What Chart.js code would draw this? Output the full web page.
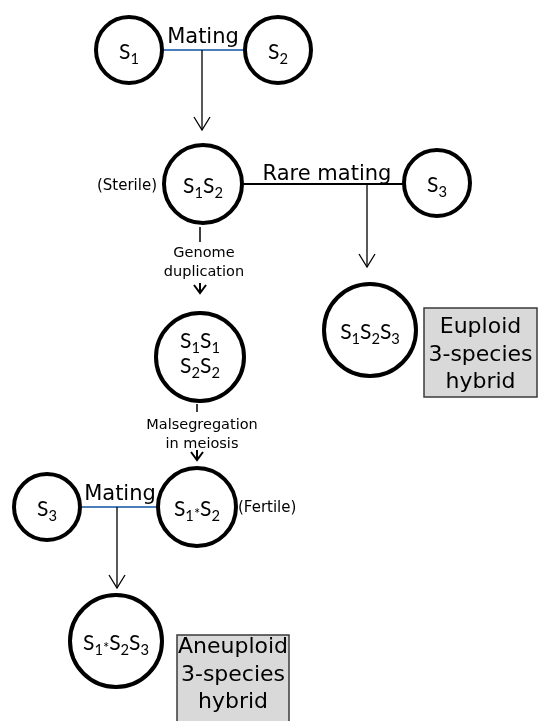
<!DOCTYPE html>
<html>
<head>
<meta charset="utf-8">
<script src="https://cdn.jsdelivr.net/npm/chart.js@4.4.1/dist/chart.umd.min.js"></script>
<style>
html, body { margin: 0; padding: 0; background: #fff; }
canvas { display: block; }
</style>
</head>
<body>
<canvas id="diagram" width="538" height="721"></canvas>
<script>
// species / hybrid nodes (digits and * are drawn as subscripts, | splits lines)
var nodeLabels = ['S1', 'S2', 'S1S2', 'S3', 'S1S1|S2S2', 'S1S2S3', 'S3', 'S1*S2', 'S1*S2S3'];
var nodeX = [129, 278, 203, 437, 200, 370, 47, 197, 116];
var nodeY = [50, 50, 184, 183, 357, 330, 507, 507, 641];
var nodeSize = [33, 33, 39, 33, 44, 46, 33, 39, 46];

// matings between two nodes and the arrow to their offspring
var matingNames = ['Mating', 'Rare mating', 'Mating'];
var matingLeft = [0, 2, 6];
var matingRight = [1, 3, 7];
var matingTextX = [203, 327, 120];
var matingTextY = [43, 180, 500];
var offspringX = [202, 367, 117];
var offspringTipY = [130, 267, 588];

// genome events between stacked nodes
var eventLines = [['Genome', 'duplication'], ['Malsegregation', 'in meiosis']];
var eventX = [200, 197];
var eventTextX = [204, 202];
var eventTextY = [257, 429];
var eventStemTop = [227, 404];
var eventStemBottom = [242, 412];
var eventTipY = [293, 460];

// side notes
var noteTexts = ['(Sterile)', '(Fertile)'];
var noteX = [157, 238];
var noteY = [190, 512];
var noteAlign = ['right', 'left'];

// result boxes
var boxLines = [['Euploid', '3-species', 'hybrid'], ['Aneuploid', '3-species', 'hybrid']];
var boxLeft = [424, 177];
var boxRight = [537, 289];
var boxTop = [308, 635];
var boxBottom = [397, 740];
var boxTextY = [333, 653];

var handFont = '"DejaVu Sans", sans-serif';
var nodeFont = 'Lato, "Open Sans", sans-serif';
var blue = '#4a7ebb';

var datasets = [];

datasets.push({
    label: 'nodes',
    data: nodeX.map(function(x, i){ return {x: x, y: nodeY[i]}; }),
    pointRadius: nodeSize,
    pointBorderWidth: 4,
    pointBorderColor: '#000',
    pointBackgroundColor: '#fff',
    showLine: false,
    clip: false,
    order: 0
});

matingNames.forEach(function(name, i){
    var a = matingLeft[i], b = matingRight[i];
    datasets.push({
        label: name,
        data: [{x: nodeX[a], y: nodeY[a]}, {x: nodeX[b], y: nodeY[a]}],
        showLine: true,
        borderColor: name == 'Mating' ? blue : '#000',
        borderWidth: 2,
        pointRadius: 0,
        clip: false,
        order: 2
    });
    datasets.push({
        label: name + ' offspring',
        data: [{x: offspringX[i], y: nodeY[a]}, {x: offspringX[i], y: offspringTipY[i]}],
        showLine: true,
        borderColor: '#000',
        borderWidth: 1.3,
        pointRadius: 0,
        clip: false,
        order: 1
    });
});

eventLines.forEach(function(lines, i){
    datasets.push({
        label: lines.join(' '),
        data: [{x: eventX[i], y: eventStemTop[i]}, {x: eventX[i], y: eventStemBottom[i]}],
        showLine: true,
        borderColor: '#000',
        borderWidth: 1.5,
        pointRadius: 0,
        clip: false,
        order: 1
    });
});

function drawRich(ctx, text, cx, baseline, size){
    var subSize = size * 0.7;
    var parts = text.split('').map(function(ch){
        var sub = /[0-9*]/.test(ch);
        ctx.font = (sub ? subSize : size) + 'px ' + nodeFont;
        return {ch: ch, sub: sub, w: ctx.measureText(ch).width};
    });
    var total = parts.reduce(function(s, p){ return s + p.w; }, 0);
    var x = cx - total / 2;
    ctx.textAlign = 'left';
    ctx.textBaseline = 'alphabetic';
    parts.forEach(function(p){
        ctx.font = (p.sub ? subSize : size) + 'px ' + nodeFont;
        ctx.fillText(p.ch, x, baseline + (p.sub ? (p.ch == '*' ? 3 : 5) : 0));
        x += p.w;
    });
}

function arrowHead(ctx, x, y, half, len, width){
    ctx.beginPath();
    ctx.moveTo(x - half, y - len);
    ctx.lineTo(x, y);
    ctx.lineTo(x + half, y - len);
    ctx.lineWidth = width;
    ctx.strokeStyle = '#000';
    ctx.stroke();
}

var diagramPlugin = {
    id: 'diagram',
    beforeDatasetsDraw: function(chart){
        var ctx = chart.ctx, sx = chart.scales.x, sy = chart.scales.y;
        ctx.save();
        boxLines.forEach(function(lines, i){
            var l = sx.getPixelForValue(boxLeft[i]), r = sx.getPixelForValue(boxRight[i]);
            var t = sy.getPixelForValue(boxTop[i]), b = sy.getPixelForValue(boxBottom[i]);
            ctx.fillStyle = '#d9d9d9';
            ctx.fillRect(l, t, r - l, b - t);
            ctx.strokeStyle = '#3a3a3a';
            ctx.lineWidth = 1.5;
            ctx.strokeRect(l, t, r - l, b - t);
        });
        ctx.restore();
    },
    afterDatasetsDraw: function(chart){
        var ctx = chart.ctx, sx = chart.scales.x, sy = chart.scales.y;
        ctx.save();
        ctx.fillStyle = '#000';

        // node labels
        nodeLabels.forEach(function(label, i){
            var cx = sx.getPixelForValue(nodeX[i]), cy = sy.getPixelForValue(nodeY[i]);
            var rows = label.split('|');
            if (rows.length == 1) {
                drawRich(ctx, rows[0], cx, cy + 9, 21);
            } else {
                drawRich(ctx, rows[0], cx, cy - 9, 21);
                drawRich(ctx, rows[1], cx, cy + 16, 21);
            }
        });

        // arrow heads
        offspringX.forEach(function(x, i){
            arrowHead(ctx, sx.getPixelForValue(x), sy.getPixelForValue(offspringTipY[i]), 8, 13, 1.3);
        });
        eventX.forEach(function(x, i){
            var px = sx.getPixelForValue(x), py = sy.getPixelForValue(eventTipY[i]);
            arrowHead(ctx, px, py, 6, 8, 2);
            ctx.beginPath();
            ctx.moveTo(px, py - 10);
            ctx.lineTo(px, py);
            ctx.stroke();
        });

        // handwritten-style labels
        ctx.textBaseline = 'alphabetic';
        ctx.textAlign = 'center';
        ctx.font = '21px ' + handFont;
        matingNames.forEach(function(name, i){
            ctx.fillText(name, sx.getPixelForValue(matingTextX[i]), sy.getPixelForValue(matingTextY[i]));
        });

        ctx.font = '14.5px ' + handFont;
        eventLines.forEach(function(lines, i){
            lines.forEach(function(line, j){
                ctx.fillText(line, sx.getPixelForValue(eventTextX[i]), sy.getPixelForValue(eventTextY[i] + j * 18.5));
            });
        });

        ctx.font = '15px ' + handFont;
        noteTexts.forEach(function(note, i){
            ctx.textAlign = noteAlign[i];
            ctx.fillText(note, sx.getPixelForValue(noteX[i]), sy.getPixelForValue(noteY[i]));
        });

        ctx.textAlign = 'center';
        ctx.font = '22px ' + handFont;
        boxLines.forEach(function(lines, i){
            var cx = sx.getPixelForValue((boxLeft[i] + boxRight[i]) / 2);
            lines.forEach(function(line, j){
                ctx.fillText(line, cx, sy.getPixelForValue(boxTextY[i] + j * 27.5));
            });
        });
        ctx.restore();
    }
};

var chart = new Chart(document.getElementById('diagram'), {
    type: 'scatter',
    data: { datasets: datasets },
    options: {
        responsive: false,
        animation: false,
        layout: { padding: 0, autoPadding: false },
        scales: {
            x: { type: 'linear', min: 0, max: 538, display: false },
            y: { type: 'linear', min: 0, max: 721, reverse: true, display: false }
        },
        plugins: {
            legend: { display: false },
            tooltip: { enabled: false }
        }
    },
    plugins: [diagramPlugin]
});
</script>
</body>
</html>
